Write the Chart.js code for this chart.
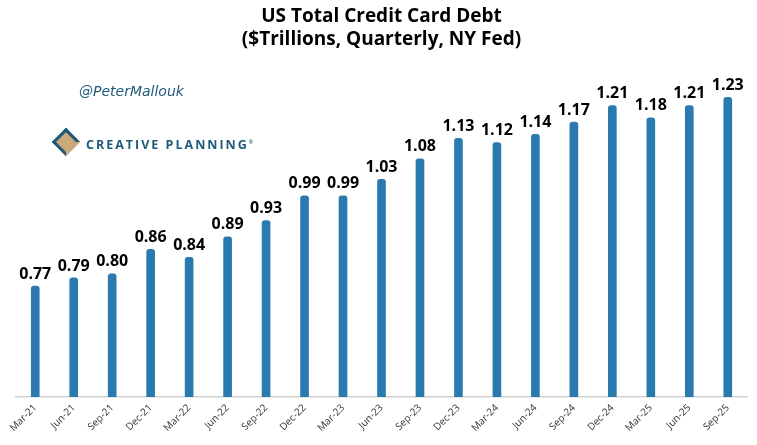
<!DOCTYPE html>
<html>
<head>
<meta charset="utf-8">
<script src="https://cdn.jsdelivr.net/npm/chart.js@4.4.0/dist/chart.umd.min.js"></script>
<style>
  html, body { margin: 0; padding: 0; background: #fff; }
  #wrap { position: relative; width: 757px; height: 445px; }
  .handle { position: absolute; left: 79px; top: 83px; font-family: 'DejaVu Sans', sans-serif; font-style: italic; font-size: 14px; color: #1f5a7a; }
  .logo { position: absolute; left: 56px; top: 132px; font-family: 'Open Sans', sans-serif; font-weight: 700; font-size: 12.5px; letter-spacing: 2px; color: #1f5a7a; }
  .logo .mark { display: inline-block; width: 14px; height: 14px; background: #c9a97a; transform: rotate(45deg); margin-right: 10px; border: 3px solid #1f5a7a; border-right-color: transparent; vertical-align: -3px; }
</style>
</head>
<body>
<div id="wrap">
  <canvas id="c" width="757" height="445"></canvas>
  <div class="handle">@PeterMallouk</div>
  <div class="logo"><span class="mark"></span>CREATIVE PLANNING<sup style="font-size:5px">®</sup></div>
</div>
<script>
// Quarterly US credit card debt, $ trillions
const quarters = ['Mar-21','Jun-21','Sep-21','Dec-21','Mar-22','Jun-22','Sep-22','Dec-22','Mar-23','Jun-23',
                  'Sep-23','Dec-23','Mar-24','Jun-24','Sep-24','Dec-24','Mar-25','Jun-25','Sep-25'];
const debt = [0.77, 0.79, 0.80, 0.86, 0.84, 0.89, 0.93, 0.99, 0.99, 1.03,
              1.08, 1.13, 1.12, 1.14, 1.17, 1.21, 1.18, 1.21, 1.23];

// draw value labels above bars
const valueLabels = {
    id: 'valueLabels',
    afterDatasetsDraw(chart) {
        const ctx = chart.ctx;
        const meta = chart.getDatasetMeta(0);
        ctx.save();
        ctx.font = 'bold 16px "Open Sans", sans-serif';
        ctx.fillStyle = '#000';
        ctx.textAlign = 'center';
        ctx.textBaseline = 'bottom';
        meta.data.forEach((bar, i) => {
            ctx.fillText(debt[i].toFixed(2), bar.x, bar.y - 4);
        });
        ctx.restore();
    }
};

new Chart(document.getElementById('c'), {
    type: 'bar',
    data: {
        labels: quarters,
        datasets: [{
            data: debt,
            backgroundColor: '#2a7ab0',
            borderRadius: { topLeft: 3, topRight: 3 },
            borderSkipped: 'bottom',
            barThickness: 8
        }]
    },
    options: {
        responsive: false,
        animation: false,
        layout: { padding: { left: 16, right: 10, top: 0, bottom: 6 } },
        plugins: {
            legend: { display: false },
            tooltip: { enabled: false },
            title: {
                display: true,
                text: ['US Total Credit Card Debt', '($Trillions, Quarterly, NY Fed)'],
                font: { family: '"Open Sans", sans-serif', size: 19, weight: 'bold' },
                color: '#000',
                padding: { top: 5, bottom: 18 },
                lineHeight: 1.35
            }
        },
        scales: {
            y: {
                display: false,
                min: 0.5,
                max: 1.3
            },
            x: {
                grid: { display: false, drawTicks: false },
                border: { color: '#d0d0d0', width: 1.5 },
                ticks: {
                    font: { family: '"Open Sans", sans-serif', size: 10 },
                    color: '#333',
                    maxRotation: 45,
                    minRotation: 45,
                    padding: 5
                }
            }
        }
    },
    plugins: [valueLabels]
});
</script>
</body>
</html>
